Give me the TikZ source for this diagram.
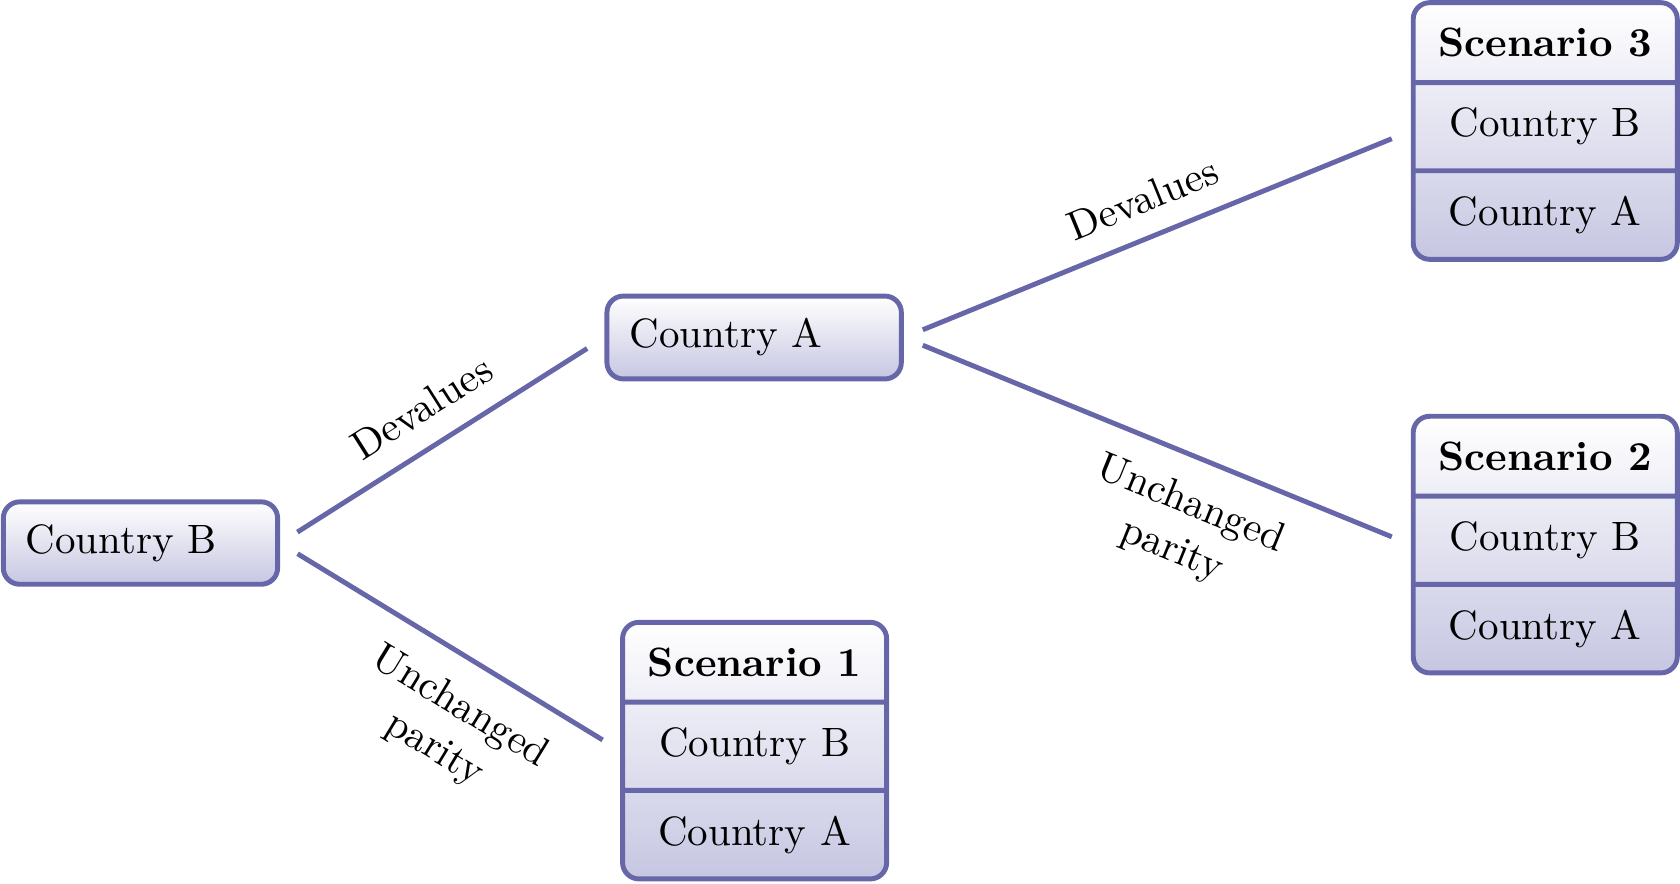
\documentclass[tikz,border=0pt]{standalone}
\usepackage{tikz}
\definecolor{edge}{RGB}{102,102,168}
\definecolor{fillb}{RGB}{198,198,226}
\usetikzlibrary{shapes.multipart}

\begin{document}
\begin{tikzpicture}[
    box/.style={draw=edge, very thick, rounded corners=4pt, top color=white, bottom color=fillb,
        align=left, inner xsep=5.5pt, inner ysep=5.5pt, minimum height=20pt},
    scen/.style={rectangle split, rectangle split parts=3, draw=edge, very thick, rounded corners=4pt,
        top color=white, bottom color=fillb, inner xsep=5.5pt, inner ysep=5.6pt, minimum width=64.4pt},
    branch/.style={draw=edge, very thick, shorten <=5pt, shorten >=5pt}
]
    \useasboundingbox (0,0) rectangle (14.4,-7.569);
    % Các nút
    \node[box, text width=55.9pt] (countryb) at (1.204,-4.655) {Country B};
    \node[box, text width=60.8pt] (countrya) at (6.464,-2.893) {Country A};
    \node[scen] (scen1) at (6.468,-6.434) {\textbf{Scenario 1}\nodepart{two}Country B\nodepart{three}Country A};
    \node[scen] (scen3) at (13.245,-1.123) {\textbf{Scenario 3}\nodepart{two}Country B\nodepart{three}Country A};
    \node[scen] (scen2) at (13.245,-4.668) {\textbf{Scenario 2}\nodepart{two}Country B\nodepart{three}Country A};
    % Các nhánh
    \draw[branch] (countryb.east) -- node[above=2pt, sloped] {Devalues} (countrya.west);
    \draw[branch] (countryb.east) -- node[pos=0.6, below=3pt, sloped, align=center] {Unchanged\\parity} (scen1.west);
    \draw[branch] (countrya.east) -- node[above=2pt, sloped] {Devalues} (scen3.west);
    \draw[branch] (countrya.east) -- node[pos=0.6, below=3pt, sloped, align=center] {Unchanged\\parity} (scen2.west);
\end{tikzpicture}
\end{document}
